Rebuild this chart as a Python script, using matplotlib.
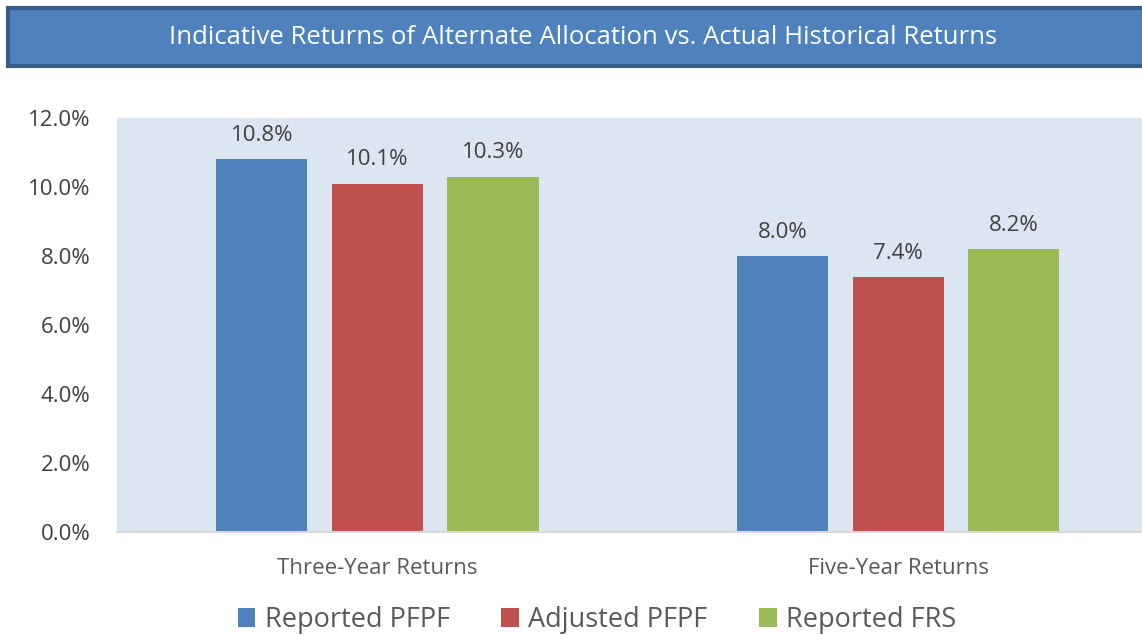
import numpy as np
import matplotlib.pyplot as plt
from matplotlib.patches import Rectangle
from matplotlib.ticker import FuncFormatter

# data
categories = ["Three-Year Returns", "Five-Year Returns"]
series_names = ["Reported PFPF", "Adjusted PFPF", "Reported FRS"]
reported_pfpf = [10.8, 8.0]
adjusted_pfpf = [10.1, 7.4]
reported_frs = [10.3, 8.2]
colors = ["#4F81BD", "#C0504D", "#9BBB59"]

plt.rcParams["font.family"] = ["Open Sans", "DejaVu Sans"]

fig = plt.figure(figsize=(11.42, 6.35), dpi=100)

# title banner
W, H = 1142, 635
banner = Rectangle((8 / W, 1 - 66 / H), 1.0, 58 / H, transform=fig.transFigure,
                   facecolor="#4F81BD", edgecolor="#385D8A", linewidth=3, clip_on=False)
fig.patches.append(banner)
fig.text(583 / W, 1 - 38 / H, "Indicative Returns of Alternate Allocation vs. Actual Historical Returns",
         ha="center", va="center", color="white", fontsize=18.5)

ax = fig.add_axes([117 / W, 1 - 532 / H, (1158.5 - 117) / W, (532 - 118) / H])
ax.set_facecolor("#DCE6F2")

x = np.arange(len(categories))
width = 0.175
step = 0.222
for i, (vals, name) in enumerate(zip([reported_pfpf, adjusted_pfpf, reported_frs], series_names)):
    pos = x + (i - 1) * step
    bars = ax.bar(pos, vals, width, color=colors[i], label=name)
    for b, v in zip(bars, vals):
        ax.annotate(f"{v:.1f}%", (b.get_x() + b.get_width() / 2, v),
                    xytext=(0, 9.5), textcoords="offset points",
                    ha="center", va="bottom", fontsize=16, color="#404040")

ax.set_xlim(-0.5, 1.5)
ax.set_ylim(0, 12)
ax.set_yticks(np.arange(0, 12.1, 2))
ax.yaxis.set_major_formatter(FuncFormatter(lambda v, p: f"{v:.1f}%"))
ax.set_xticks(x)
ax.set_xticklabels(categories)
ax.tick_params(axis="y", length=0, pad=19, labelsize=16, labelcolor="#404040")
ax.tick_params(axis="x", length=0, pad=19, labelsize=16, labelcolor="#595959")
for s in ["top", "right", "left"]:
    ax.spines[s].set_visible(False)
ax.spines["bottom"].set_color("#D9D9D9")
ax.spines["bottom"].set_linewidth(1.5)

leg = fig.legend(loc="center", bbox_to_anchor=(597 / W, 1 - 620 / H), ncol=3,
                 frameon=False, fontsize=19.5, handlelength=0.65, handleheight=0.65,
                 handletextpad=0.35, columnspacing=1.9)
for t in leg.get_texts():
    t.set_color("#595959")

fig.savefig("out.png", dpi=100)
